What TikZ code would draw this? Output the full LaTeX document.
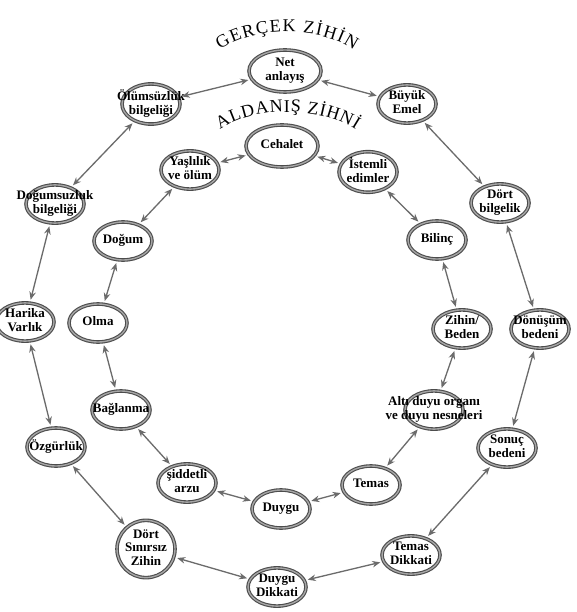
\documentclass[tikz,border=0pt]{standalone}
\usepackage{fontspec}
\setmainfont{Liberation Serif}
\usetikzlibrary{shapes.geometric,arrows.meta,decorations.text}
\newcommand{\ringtext}[1]{\makebox[0pt]{\begin{tabular}{@{}c@{}}#1\end{tabular}}}

\begin{document}
\begin{tikzpicture}[x=1pt, y=-1pt,
		node_style/.style={ellipse, draw=black!70, double=black!35, double distance=1.4pt, line width=1.1pt, minimum width=58pt, minimum height=38pt, inner sep=0pt, font=\fontsize{13}{13.5}\selectfont\bfseries},
		wide_style/.style={node_style, minimum width=72pt, minimum height=42pt},
		edge_style/.style={draw=black!58, line width=1.3pt, {Stealth[length=8pt,width=6.5pt]}-{Stealth[length=8pt,width=6.5pt]}, shorten >=3pt, shorten <=3pt},
		title_style/.style={decorate, decoration={text along path, text align={fit to path}, text={|\fontsize{18}{18}\selectfont|#1}}}]
		
		\useasboundingbox (0,0) rectangle (576,612);
		\fill[white] (0,0) rectangle (576,612);
		
		% titles
		\path[title_style={GERÇEK ZİHİN}] (220,50) .. controls (254,26) and (320,26) .. (354,50);
		\path[title_style={ALDANIŞ ZİHNİ}] (220,130) .. controls (254,106) and (320,106) .. (356,130);
		
		% outer ring
		\node[wide_style] (net) at (285,71) {\ringtext{Net\\anlayış}};
		\node[node_style] (buyuk) at (407,104) {\ringtext{Büyük\\Emel}};
		\node[node_style] (dortb) at (500,203) {\ringtext{Dört\\bilgelik}};
		\node[node_style] (donusum) at (540,329) {\ringtext{Dönüşüm\\bedeni}};
		\node[node_style] (sonuc) at (507,448) {\ringtext{Sonuç\\bedeni}};
		\node[node_style] (temasd) at (411,555) {\ringtext{Temas\\Dikkati}};
		\node[node_style] (duygud) at (277,587) {\ringtext{Duygu\\Dikkati}};
		\node[node_style] (dortsz) at (146,549) {\ringtext{Dört\\Sınırsız\\Zihin}};
		\node[node_style] (ozgur) at (56,447) {\ringtext{Özgürlük}};
		\node[node_style] (harika) at (25,322) {\ringtext{Harika\\Varlık}};
		\node[node_style] (dogumsuz) at (55,204) {\ringtext{Doğumsuzluk\\bilgeliği}};
		\node[node_style] (olumsuz) at (151,104) {\ringtext{Ölümsüzlük\\bilgeliği}};
		
		% inner ring
		\node[wide_style] (cehalet) at (282,146) {\ringtext{Cehalet}};
		\node[node_style] (istemli) at (368,172) {\ringtext{İstemli\\edimler}};
		\node[node_style] (bilinc) at (437,240) {\ringtext{Bilinç}};
		\node[node_style] (zihin) at (462,329) {\ringtext{Zihin/\\Beden}};
		\node[node_style] (alti) at (434,410) {\ringtext{Altı duyu organı\\ve duyu nesneleri}};
		\node[node_style] (temas) at (371,485) {\ringtext{Temas}};
		\node[node_style] (duygu) at (281,509) {\ringtext{Duygu}};
		\node[node_style] (siddetli) at (187,483) {\ringtext{şiddetli\\arzu}};
		\node[node_style] (baglanma) at (121,410) {\ringtext{Bağlanma}};
		\node[node_style] (olma) at (98,323) {\ringtext{Olma}};
		\node[node_style] (dogum) at (123,241) {\ringtext{Doğum}};
		\node[node_style] (yaslilik) at (190,170) {\ringtext{Yaşlılık\\ve ölüm}};
		
		\draw[edge_style] (net) edge (buyuk);
		\draw[edge_style] (buyuk) edge (dortb);
		\draw[edge_style] (dortb) edge (donusum);
		\draw[edge_style] (donusum) edge (sonuc);
		\draw[edge_style] (sonuc) edge (temasd);
		\draw[edge_style] (temasd) edge (duygud);
		\draw[edge_style] (duygud) edge (dortsz);
		\draw[edge_style] (dortsz) edge (ozgur);
		\draw[edge_style] (ozgur) edge (harika);
		\draw[edge_style] (harika) edge (dogumsuz);
		\draw[edge_style] (dogumsuz) edge (olumsuz);
		\draw[edge_style] (olumsuz) edge (net);
		
		\draw[edge_style] (cehalet) edge (istemli);
		\draw[edge_style] (istemli) edge (bilinc);
		\draw[edge_style] (bilinc) edge (zihin);
		\draw[edge_style] (zihin) edge (alti);
		\draw[edge_style] (alti) edge (temas);
		\draw[edge_style] (temas) edge (duygu);
		\draw[edge_style] (duygu) edge (siddetli);
		\draw[edge_style] (siddetli) edge (baglanma);
		\draw[edge_style] (baglanma) edge (olma);
		\draw[edge_style] (olma) edge (dogum);
		\draw[edge_style] (dogum) edge (yaslilik);
		\draw[edge_style] (yaslilik) edge (cehalet);
		
		\end{tikzpicture}
\end{document}
